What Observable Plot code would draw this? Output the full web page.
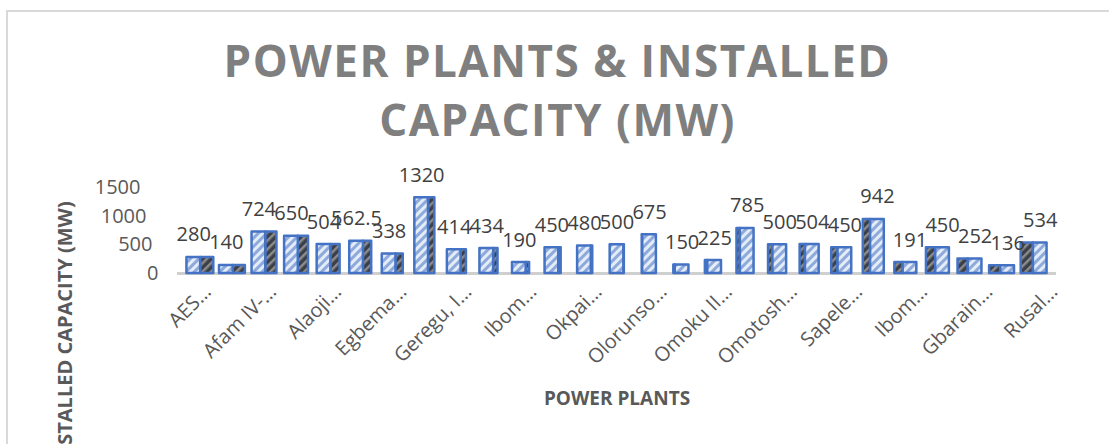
<!DOCTYPE html>
<html>
<head>
<meta charset="utf-8">
<script src="https://cdn.jsdelivr.net/npm/d3@7"></script>
<script src="https://cdn.jsdelivr.net/npm/@observablehq/plot@0.6"></script>
<style>
  body { margin: 0; background: #fff; }
  #wrap { position: relative; width: 1109px; height: 444px; overflow: hidden; font-family: "Open Sans", sans-serif; }
  #frame { position: absolute; left: 6px; top: 10px; width: 1300px; height: 600px; border-left: 2px solid #d9d9d9; border-top: 2px solid #d9d9d9; box-sizing: border-box; }
  #title { position: relative; box-sizing: border-box; height: 150px; margin: 0; padding-top: 31px; padding-left: 6px; text-align: center;
           font-weight: 700; font-size: 44px; letter-spacing: 1.5px; line-height: 59px; color: #7f7f7f; }
  #chart svg { display: block; }
</style>
</head>
<body>
<div id="wrap">
  <div id="frame"></div>
  <div id="title">POWER PLANTS &amp; INSTALLED<br>CAPACITY (MW)</div>
  <div id="chart"></div>
</div>
<script>
// ---- data ----
const capacity = [280, 140, 724, 650, 504, 562.5, 338, 1320, 414, 434, 190, 450, 480, 500, 675,
                  150, 225, 785, 500, 504, 450, 942, 191, 450, 252, 136, 534];
// only every other plant name is shown on the axis (truncated as in the reference)
const xTickLabels = ["AES…", "Afam IV-…", "Alaoji…", "Egbema…", "Geregu, I…", "Ibom…", "Okpai…",
                     "Olorunso…", "Omoku II…", "Omotosh…", "Sapele…", "Ibom…", "Gbarain…", "Rusal…"];
const yTicks = [0, 500, 1000, 1500];
const xTitle = "POWER PLANTS";
const yTitle = "INSTALLED CAPACITY (MW)";

// ---- build table ----
const rows = capacity.map((v, i) => ({i, v}));
const half = 0.21;               // half width of the front face (band units)
const vp = 13.5;                 // perspective centre (index)
const sideW = d => Math.abs(d.i - vp) * 0.03;
const sideX1 = d => d.i < vp ? d.i + half : d.i - half - sideW(d);
const sideX2 = d => d.i < vp ? d.i + half + sideW(d) : d.i - half;

const tickIdx = d3.range(0, capacity.length, 2);

const chart = Plot.plot({
  width: 1109,
  height: 294,
  marginLeft: 177,
  marginRight: 53,
  marginTop: 37,
  marginBottom: 171,
  style: {fontFamily: "Open Sans, sans-serif", background: "transparent", overflow: "hidden"},
  x: {type: "linear", domain: [-0.5, capacity.length - 0.5]},
  y: {domain: [0, 1500]},
  marks: [
    Plot.ruleY([0], {stroke: "#cfcfcf", strokeWidth: 3}),
    // side faces (dark hatched)
    Plot.rect(rows, {x1: sideX1, x2: sideX2, y1: 0, y2: "v", fill: "url(#hatchSide)",
                     stroke: "#4472C4", strokeWidth: 2.5, strokeLinejoin: "round"}),
    // front faces (light hatched)
    Plot.rect(rows, {x1: d => d.i - half, x2: d => d.i + half, y1: 0, y2: "v", fill: "url(#hatchFront)",
                     stroke: "#4472C4", strokeWidth: 2.5, strokeLinejoin: "round"}),
    // data labels
    Plot.text(rows, {x: "i", y: "v", text: d => String(d.v), dy: -16, lineAnchor: "bottom",
                     fontSize: 20, fill: "#404040"}),
    // y tick labels (shifted slightly as in the 3D perspective of the reference)
    ...yTicks.map(t => Plot.axisY([t], {tickSize: 0, tickPadding: 19 + t / 1500 * 18, fontSize: 20,
                                          tickFormat: d => String(d), color: "#595959", label: null})),
    // x tick labels
    Plot.axisX(tickIdx, {tickFormat: i => xTickLabels[i / 2], tickRotate: -45, tickSize: 0, tickPadding: 15,
                         dx: 14, fontSize: 20, color: "#595959", label: null}),
    // axis titles
    Plot.text([xTitle], {text: d => d, frameAnchor: "bottom", dy: 125, lineAnchor: "middle",
                         fontSize: 19, fontWeight: "bold", fill: "#595959"}),
    Plot.text([yTitle], {text: d => d, frameAnchor: "left", rotate: -90, dx: -112, dy: 104,
                         textAnchor: "middle", lineAnchor: "middle",
                         fontSize: 20, fontWeight: "bold", fill: "#595959"})
  ]
});

// hatch patterns for the 3D column faces
const ns = "http://www.w3.org/2000/svg";
const defs = document.createElementNS(ns, "defs");
defs.innerHTML = `
  <pattern id="hatchFront" width="6" height="6" patternUnits="userSpaceOnUse" patternTransform="rotate(45)">
    <rect width="6" height="6" fill="#e4ecf8"/>
    <rect width="3" height="6" fill="#8eaadb"/>
  </pattern>
  <pattern id="hatchSide" width="6" height="6" patternUnits="userSpaceOnUse" patternTransform="rotate(45)">
    <rect width="6" height="6" fill="#3a3f4a"/>
    <rect width="2.5" height="6" fill="#8c8c8c"/>
  </pattern>`;
chart.insertBefore(defs, chart.firstChild);
document.getElementById("chart").appendChild(chart);
</script>
</body>
</html>
